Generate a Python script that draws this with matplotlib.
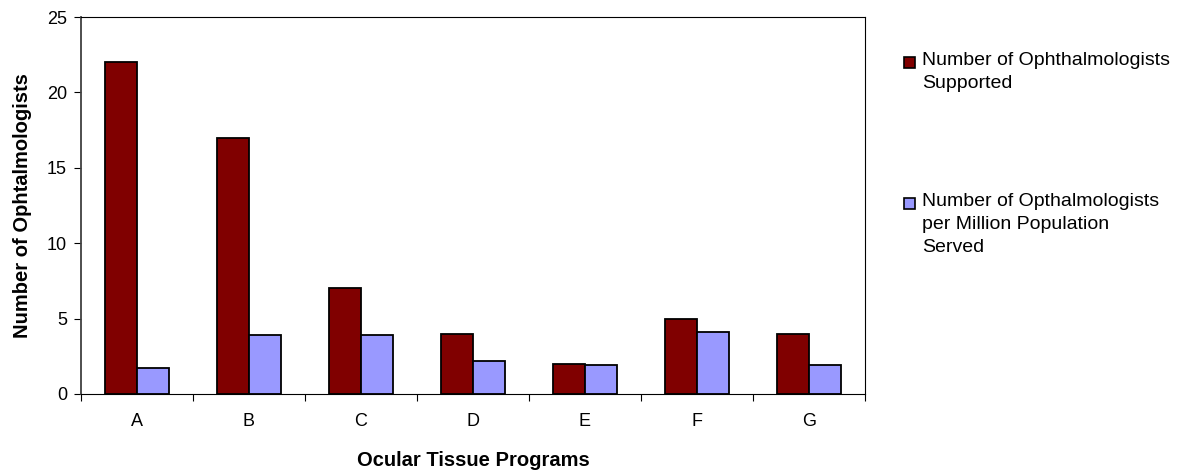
import matplotlib
matplotlib.use("Agg")
import matplotlib.pyplot as plt
from matplotlib.patches import Rectangle
import numpy as np

plt.rcParams['font.family'] = ['Liberation Sans', 'DejaVu Sans']

categories = ["A", "B", "C", "D", "E", "F", "G"]
supported = [22, 17, 7, 4, 2, 5, 4]
per_million = [1.7, 3.9, 3.9, 2.2, 1.9, 4.1, 1.9]
series_names = ["Number of Ophthalmologists\nSupported",
                "Number of Opthalmologists\nper Million Population\nServed"]
series_colors = ["#800000", "#9999FF"]
y_ticks = [0, 5, 10, 15, 20, 25]

W, H = 1178, 475
fig = plt.figure(figsize=(W/100, H/100), dpi=100)
ax = fig.add_axes([81/W, 1 - 394/H, (865-81)/W, (394-17)/H])

x = np.arange(len(categories))
w = 1/3.5
ax.bar(x - w/2, supported, width=w, color=series_colors[0], edgecolor="black", linewidth=1.3)
ax.bar(x + w/2, per_million, width=w, color=series_colors[1], edgecolor="black", linewidth=1.3)

ax.set_xlim(-0.5, len(categories) - 0.5)
ax.set_ylim(0, 25)
ax.set_yticks(y_ticks)
ax.set_xticks(x)
ax.set_xticklabels(categories)
ax.set_xticks(np.arange(len(categories) + 1) - 0.5, minor=True)
ax.tick_params(axis='x', which='major', length=0, labelsize=13, pad=14)
ax.tick_params(axis='x', which='minor', length=5, direction='out', width=0.8)
ax.tick_params(axis='y', length=5, direction='out', labelsize=13, pad=5)
for s in ax.spines.values():
    s.set_linewidth(0.8)
ax.spines['left'].set_color('#404040')
ax.spines['left'].set_linewidth(1.3)

ax.set_ylabel("Number of Ophtalmologists", fontsize=14.5, fontweight='bold', labelpad=11)
ax.set_xlabel("Ocular Tissue Programs", fontsize=14.5, fontweight='bold', labelpad=15)

# legend drawn at the right, handles aligned with first line
legend_tops = [62, 203]
for name, col, yc in zip(series_names, series_colors, legend_tops):
    fig.patches.append(Rectangle((904/W, 1 - (yc + 6)/H), 11/W, 11/H, transform=fig.transFigure,
                                 facecolor=col, edgecolor="black", linewidth=1.2))
    fig.text(922/W, 1 - (yc - 10)/H, name, fontsize=14, va='top', ha='left', linespacing=1.45)

fig.savefig("out.png", dpi=100)
